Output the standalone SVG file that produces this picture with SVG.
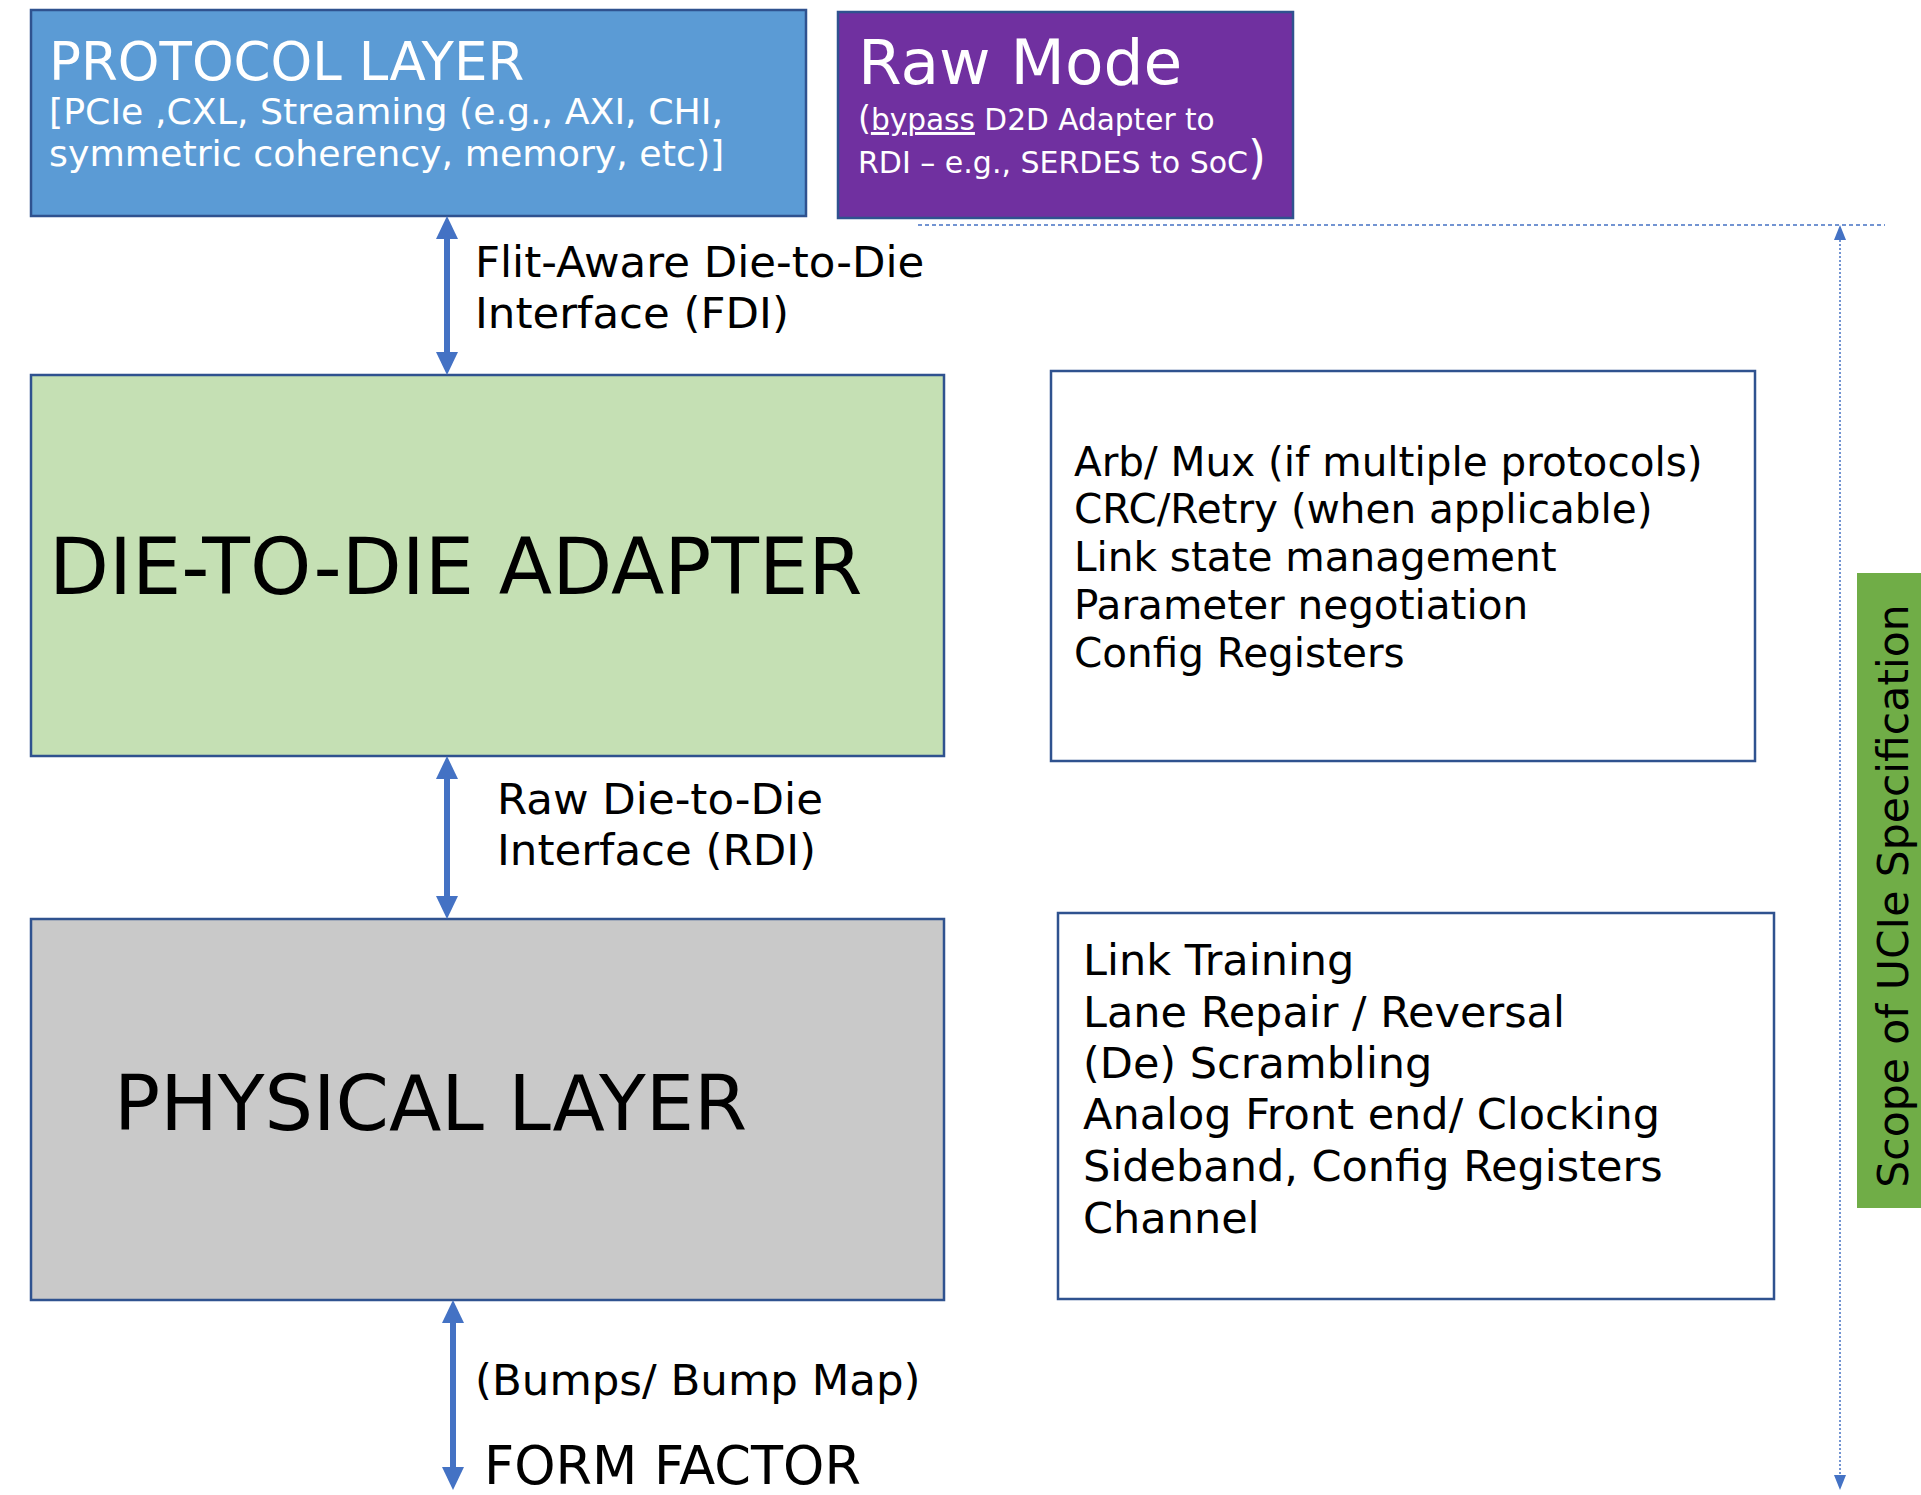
<svg xmlns="http://www.w3.org/2000/svg" width="1921" height="1495" viewBox="0 0 1921 1495">
  <style>
    text { font-family: "DejaVu Sans", Verdana, "Liberation Sans", sans-serif; }
    .box { stroke: #2F528F; stroke-width: 2.5; }
    .white { fill: #FFFFFF; }
    .black { fill: #000000; }
    .link { stroke: #4472C4; stroke-width: 6; fill: none; }
    .scope { stroke: #4472C4; stroke-width: 1.5; fill: none; }
  </style>
  <defs>
    <marker id="head" markerUnits="userSpaceOnUse" markerWidth="23" markerHeight="22" refX="0" refY="11" orient="auto-start-reverse">
      <path d="M0,0 L23,11 L0,22 z" fill="#4472C4"/>
    </marker>
    <marker id="headSmall" markerUnits="userSpaceOnUse" markerWidth="15" markerHeight="12" refX="0" refY="6" orient="auto-start-reverse">
      <path d="M0,0 L15,6 L0,12 z" fill="#4472C4"/>
    </marker>
  </defs>

  <rect width="1921" height="1495" fill="#FFFFFF"/>

  <!-- Protocol layer -->
  <g id="protocol-layer">
    <rect class="box" x="31" y="10" width="775" height="206" fill="#5B9BD5" stroke="#41719C"/>
    <text class="white" x="49" y="80" font-size="53">PROTOCOL LAYER</text>
    <text class="white" x="49" y="124" font-size="36.3">[PCIe ,CXL, Streaming (e.g., AXI, CHI,</text>
    <text class="white" x="49" y="166" font-size="36.3">symmetric coherency, memory, etc)]</text>
  </g>

  <!-- Raw mode -->
  <g id="raw-mode">
    <rect class="box" x="838" y="12" width="455" height="206" fill="#7030A0"/>
    <text class="white" x="858" y="84" font-size="63">Raw Mode</text>
    <text class="white" x="858" y="130" font-size="29.6"><tspan font-size="33">(</tspan><tspan text-decoration="underline">bypass</tspan> D2D Adapter to</text>
    <text class="white" x="858" y="173" font-size="30">RDI – e.g., SERDES to SoC<tspan font-size="46">)</tspan></text>
  </g>

  <!-- Die-to-die adapter -->
  <g id="d2d-adapter">
    <rect class="box" x="31" y="375" width="913" height="381" fill="#C5E0B4"/>
    <text class="black" x="49" y="594" font-size="78">DIE-TO-DIE ADAPTER</text>
  </g>

  <!-- Adapter functions -->
  <g id="adapter-functions">
    <rect class="box" x="1051" y="371" width="704" height="390" fill="#FFFFFF"/>
    <text class="black" x="1074" y="476" font-size="40.5">Arb/ Mux (if multiple protocols)</text>
    <text class="black" x="1074" y="523" font-size="40.5">CRC/Retry (when applicable)</text>
    <text class="black" x="1074" y="571" font-size="40.5">Link state management</text>
    <text class="black" x="1074" y="619" font-size="40.5">Parameter negotiation</text>
    <text class="black" x="1074" y="667" font-size="40.5">Config Registers</text>
  </g>

  <!-- Physical layer -->
  <g id="physical-layer">
    <rect class="box" x="31" y="919" width="913" height="381" fill="#C9C9C9"/>
    <text class="black" x="114" y="1130" font-size="76.5">PHYSICAL LAYER</text>
  </g>

  <!-- Physical layer functions -->
  <g id="physical-functions">
    <rect class="box" x="1058" y="913" width="716" height="386" fill="#FFFFFF"/>
    <text class="black" x="1083" y="975" font-size="43">Link Training</text>
    <text class="black" x="1083" y="1027" font-size="43">Lane Repair / Reversal</text>
    <text class="black" x="1083" y="1078" font-size="43">(De) Scrambling</text>
    <text class="black" x="1083" y="1129" font-size="43">Analog Front end/ Clocking</text>
    <text class="black" x="1083" y="1181" font-size="43">Sideband, Config Registers</text>
    <text class="black" x="1083" y="1233" font-size="43">Channel</text>
  </g>

  <!-- Scope of the specification -->
  <g id="scope-label">
    <rect x="1857" y="573" width="70" height="635" fill="#70AD47"/>
    <text class="black" font-size="42.5" text-anchor="middle" transform="translate(1908,896) rotate(-90)">Scope of UCIe Specification</text>
  </g>

  <!-- Connectors -->
  <g id="connectors">
    <line class="link" x1="447" y1="239" x2="447" y2="352" marker-start="url(#head)" marker-end="url(#head)"/>
    <line class="link" x1="447" y1="779" x2="447" y2="896" marker-start="url(#head)" marker-end="url(#head)"/>
    <line class="link" x1="453" y1="1323" x2="453" y2="1467" marker-start="url(#head)" marker-end="url(#head)"/>
    <line class="scope" x1="918" y1="225" x2="1885" y2="225" stroke-dasharray="4 3"/>
    <line class="scope" x1="1840" y1="240" x2="1840" y2="1475" stroke-dasharray="2 2" marker-start="url(#headSmall)" marker-end="url(#headSmall)"/>
  </g>

  <!-- Interface labels -->
  <g id="interface-labels">
    <text class="black" x="475" y="277" font-size="43.5">Flit-Aware Die-to-Die</text>
    <text class="black" x="475" y="328" font-size="43.5">Interface (FDI)</text>
    <text class="black" x="497" y="814" font-size="43.5">Raw Die-to-Die</text>
    <text class="black" x="497" y="865" font-size="43.5">Interface (RDI)</text>
    <text class="black" x="475" y="1395" font-size="43.5">(Bumps/ Bump Map)</text>
    <text class="black" x="484" y="1484" font-size="52.5">FORM FACTOR</text>
  </g>
</svg>
